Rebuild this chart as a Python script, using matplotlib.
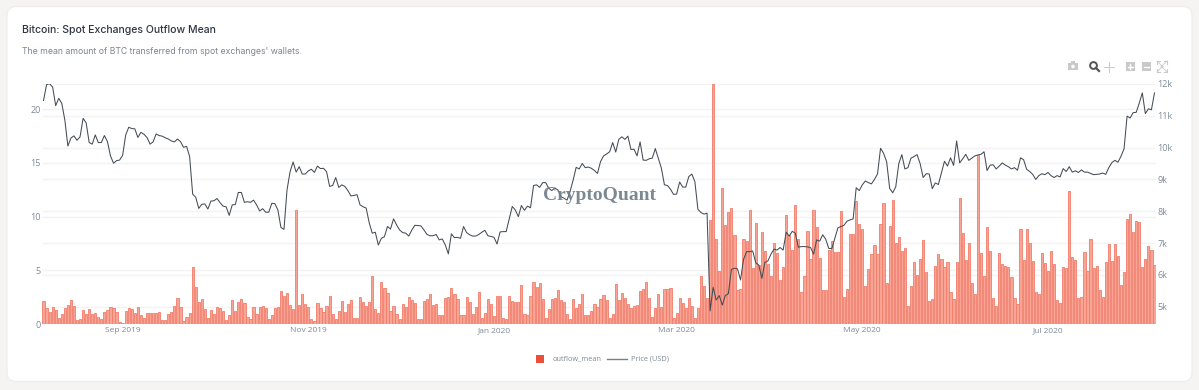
import matplotlib
matplotlib.use('Agg')
import matplotlib.pyplot as plt
import pandas as pd
from matplotlib.patches import FancyBboxPatch, Rectangle, Circle

start_date = '2019-08-06'

outflow_mean = [
    2.1, 1.45, 1.15, 1.6, 1.3, .55, .95, 1.45, 1.8, 2.25,
    1.7, .4, .5, 1.3, .9, 1.4, .9, 1.05, .65, .5,
    1.15, 1.3, 1.6, 1.45, 1.15, .2, .1, 1.2, 1.5, 1.4,
    1.05, 1.6, .8, .55, 1.0, 1.0, 1.05, 1.05, 1.1, .4,
    .4, .9, 1.15, 1.7, 2.4, 1.55, .3, .65, 1.05, 5.3,
    3.4, 2.05, 2.3, 1.35, .6, 1.3, .95, 1.6, 1.5, 1.25,
    .35, .8, 2.25, 1.2, 2.05, 2.35, 2.0, .65, .45, 1.6,
    .95, 1.6, 1.7, 1.5, .5, .85, 1.45, 1.55, 3.05, 2.6,
    2.85, 1.8, 1.4, 10.6, 1.8,
    2.8, 1.85, 1.55, .5, .3, 2.0, 1.5, 1.1, 1.7, 2.6,
    .95, .5, 1.25, 2.1, 1.15, 1.85, 2.25, .6, .55, 2.5,
    2.05, 1.7, 2.05, 4.45, 1.4, 1.0, 3.95, 3.35, 2.85, 1.2,
    1.7, .9, .45, 1.9, 1.6, 2.55, 2.25, 1.95, .5, .5,
    2.1, 2.35, 2.75, 1.75, 1.85, .85, .85, 2.45, 2.5, 3.35,
    2.8, 2.3, .8, .85, 2.5, 2.05, .95, 1.6, 2.95, .6,
    1.0, 2.35, 1.85, .75, 2.65, 2.65, .6, .45, 2.65, 2.1,
    2.05, 2.05, 3.6, .95, .85, 2.65, 3.95, 3.45, 3.85, 2.35,
    .6, 1.4, 2.3, 2.45, 3.2, 2.25, 2.05, .95, .45, 2.35,
    1.45, 1.85, 2.75, .8, .85, 1.25, 1.85, 1.6,
    2.35, 2.7, 2.2, .55, .9, 3.75, 2.25, 2.85, 2.4, 1.85,
    1.45, 1.7, 1.8, 3.1, 3.3, 3.95, 2.4, .65, 1.45, 2.75,
    1.55, 3.25, 3.25, 3.35, .6, 1.05, 2.45, 2.0, 1.45, 2.4,
    1.7, .6, 1.5, 4.45, 3.5, 2.45, 9.7, 22.3, 7.9, 4.9,
    12.65, 9.2, 10.4, 10.8, 8.25, 3.2, 3.3, 7.95, 7.7, 10.6,
    5.25, 9.4, 5.45, 8.6, 6.8, 5.55, 4.45, 7.5, 6.6, 4.1,
    5.3, 10.1, 8.25, 6.85, 11.1, 7.95, 2.95, 4.5, 8.65, 6.05,
    10.6, 9.0, 6.15, 3.15, 3.15, 6.9, 7.7, 6.7, 6.7, 10.55,
    2.5, 3.3, 8.4, 8.35, 11.45, 9.3, 8.8, 3.5, 5.1, 6.5,
    7.35, 6.5, 9.35, 11.3, 3.85, 9.15, 11.5, 7.55, 8.1,
    6.8, 7.05, 1.7, 3.55, 5.75, 4.6, 6.05, 7.8, 4.85, 2.1,
    2.35, 5.35, 6.5, 6.05, 5.3, 5.75, 2.95, 2.3, 5.75, 11.7,
    8.45, 5.95, 7.5, 3.8, 2.8, 15.75, 6.65, 4.5, 9.05, 6.8,
    2.45, 1.65, 6.6, 5.6, 5.4, 5.3, 4.4, 2.4, 1.85, 8.8,
    5.95, 8.85, 7.5, 5.9, 2.95, 2.75, 6.65, 5.65, 4.95, 6.8,
    5.6, 2.25, 2.0, 5.3, 5.2, 12.4, 6.25, 6.0, 2.45, 2.55,
    6.7, 4.95, 7.9, 5.2, 5.4, 3.2, 2.55, 5.8, 7.45, 5.85,
    7.4, 6.35, 3.65, 4.85, 9.8, 10.25, 8.6, 9.6, 9.45, 5.3,
    6.05, 7.25, 6.9, 5.5,
]

price_usd = [
    11480, 11980, 12010, 11900, 11320, 11550, 11390, 10870, 10050, 10300,
    10370, 10230, 10340, 10920, 10780, 10160, 10110, 10400, 10160, 10160,
    10380, 10190, 9740, 9510, 9590, 9610, 9760, 10400, 10640, 10600,
    10590, 10320, 10480, 10420, 10320, 10110, 10180, 10430, 10380, 10360,
    10310, 10270, 10210, 10180, 10270, 10190, 10010, 10040, 9720, 8540,
    8440, 8090, 8220, 8230, 8070, 8320, 8330, 8400, 8270, 8160,
    8140, 7870, 8200, 8210, 8590, 8590, 8280, 8300, 8280, 8350,
    8200, 8010, 8080, 7970, 7970, 8250, 8240, 8040, 7490, 7430,
    8670, 9240, 9550, 9230, 9400,
    9170, 9170, 9270, 9320, 9220, 9420, 9340, 9350, 9240, 8780,
    8810, 9060, 8750, 8830, 8780, 8650, 8480, 8500, 8520, 8200,
    8140, 8100, 7640, 7310, 7340, 6940, 7150, 7200, 7520, 7440,
    7760, 7570, 7410, 7330, 7310, 7220, 7410, 7560, 7550, 7540,
    7410, 7270, 7230, 7230, 7270, 7100, 7130, 6940, 6660, 7290,
    7170, 7180, 7150, 7520, 7330, 7260, 7220, 7220, 7270, 7340,
    7400, 7230, 7210, 7180, 6970, 7350, 7360, 7360, 7760, 8150,
    8040, 7830, 8180, 8030, 8160, 8110, 8810, 8830, 8750, 8900,
    8900, 8720, 8650, 8730, 8670, 8460, 8410, 8350, 8620, 8980,
    9380, 9330, 9500, 9370, 9390, 9350, 9280, 9190,
    9560, 9740, 9800, 9870, 10160, 9860, 10260, 10340, 10260, 10360,
    9940, 9950, 9740, 10180, 9610, 9600, 9650, 9670, 9970, 9660,
    9350, 8830, 8810, 8690, 8530, 8540, 8920, 8760, 8760, 9090,
    9170, 8930, 8060, 7960, 7910, 7940, 4870, 5610, 5210, 5350,
    5050, 5350, 5410, 6170, 6210, 6190, 5840, 6490, 6730, 6730,
    6750, 6380, 6310, 5890, 6390, 6440, 6650, 6810, 6780, 6860,
    6780, 7340, 7220, 7370, 7310, 6870, 6890, 6890, 6880, 6860,
    6650, 7100, 7060, 7260, 7120, 6830, 6830, 7150, 7480, 7520,
    7560, 7690, 7730, 7760, 8740, 8650, 8830, 8950, 8900, 8860,
    9000, 9170, 9980, 9820, 9560, 8720, 8580, 8770, 9500,
    9780, 9330, 9370, 9670, 9720, 9780, 9500, 9060, 9180, 9170,
    8710, 8890, 8840, 9200, 9570, 9420, 9680, 9440, 10210, 9520,
    9650, 9790, 9600, 9670, 9740, 9770, 9790, 9870, 9280, 9450,
    9460, 9330, 9420, 9520, 9450, 9400, 9330, 9370, 9290, 9680,
    9620, 9320, 9250, 9160, 9000, 9120, 9180, 9150, 9220, 9120,
    9060, 9120, 9080, 9340, 9250, 9400, 9230, 9270, 9220, 9300,
    9230, 9230, 9190, 9150, 9160, 9170, 9200, 9160, 9370, 9530,
    9600, 9540, 9730, 9960, 10990, 10930, 11100, 11110, 11400, 11720,
    11070, 11220, 11190, 11720,
]

left_ticks = [0, 5, 10, 15, 20]
right_ticks = [5000, 6000, 7000, 8000, 9000, 10000, 11000, 12000]
right_labels = ['5k', '6k', '7k', '8k', '9k', '10k', '11k', '12k']
date_ticks = ['2019-09-01', '2019-11-01', '2020-01-01', '2020-03-01', '2020-05-01', '2020-07-01']
date_labels = ['Sep 2019', 'Nov 2019', 'Jan 2020', 'Mar 2020', 'May 2020', 'Jul 2020']

W, H = 1199, 390
font = 'Open Sans'
grey = '#7f8a96'
rect = [42 / W, (H - 324) / H, (1156 - 42) / W, 240 / H]

fig = plt.figure(figsize=(W / 100, H / 100), dpi=100, facecolor='#f5f4f2')

# card, titles, mode bar and legend in page pixels
bg = fig.add_axes([0, 0, 1, 1], zorder=0)
bg.set_xlim(0, W)
bg.set_ylim(H, 0)
bg.axis('off')
bg.add_patch(FancyBboxPatch((7, 6.5), 1185, 375, boxstyle='round,pad=0,rounding_size=9',
                            fc='white', ec='#efeeec', lw=1))
bg.text(22, 30, 'Bitcoin: Spot Exchanges Outflow Mean', fontsize=7.55, family='Inter',
        color='#2f3640', va='center', fontweight='medium')
bg.text(22, 51, "The mean amount of BTC transferred from spot exchanges' wallets.", fontsize=6.25,
        family='Inter', color='#7d8590', va='center')

c = '#c9c9c9'
bg.add_patch(Rectangle((1068, 63), 10, 7, fc=c, ec='none'))
bg.add_patch(Rectangle((1071, 61), 4, 2, fc=c, ec='none'))
bg.add_patch(Circle((1073, 66.5), 1.8, fc='white', ec='none'))
bg.add_patch(Circle((1093.5, 65.5), 3.4, fc='none', ec='#555555', lw=1.4))
bg.plot([1096, 1099], [68, 71], color='#555555', lw=1.6)
bg.plot([1104, 1114], [66.5, 66.5], color=c, lw=0.7)
bg.plot([1109, 1109], [61.5, 71.5], color=c, lw=0.7)
bg.add_patch(Rectangle((1125.5, 62), 9, 9, fc=c, ec='none'))
bg.plot([1127.5, 1132.5], [66.5, 66.5], color='white', lw=1)
bg.plot([1130, 1130], [64, 69], color='white', lw=1)
bg.add_patch(Rectangle((1141.5, 62), 9, 9, fc=c, ec='none'))
bg.plot([1143.5, 1148.5], [66.5, 66.5], color='white', lw=1)
for sx, sy in [(1157, 61), (1167, 61), (1157, 72), (1167, 72)]:
    dx = 3 if sx < 1160 else -3
    dy = 3 if sy < 66 else -3
    bg.plot([sx, sx + dx], [sy, sy], color=c, lw=0.8)
    bg.plot([sx, sx], [sy, sy + dy], color=c, lw=0.8)
    bg.plot([sx, sx + 2 * dx], [sy, sy + 2 * dy], color=c, lw=0.6)

# legend
bg.add_patch(Rectangle((536, 354.5), 8, 8, fc='#ea4f3b', ec='none'))
bg.plot([607, 627], [358.5, 358.5], color='#7b8087', lw=1)
bg.text(553, 358.5, 'outflow_mean', fontsize=5.3, family=font, color=grey, va='center')
bg.text(631, 358.5, 'Price (USD)', fontsize=5.3, family=font, color=grey, va='center')

dates = pd.date_range(start_date, periods=len(outflow_mean))
price_dates = pd.date_range(start_date, periods=len(price_usd))
xlim = (dates[0] - pd.Timedelta(hours=12), dates[-1] + pd.Timedelta(hours=12))

# right axis gridlines sit under the bars
grid_ax = fig.add_axes(rect, zorder=1)
grid_ax.patch.set_alpha(0)
grid_ax.set_xlim(xlim)
grid_ax.set_ylim(4456, 12000)
grid_ax.set_yticks(right_ticks)
grid_ax.set_xticks([])
grid_ax.tick_params(length=0, labelleft=False)
grid_ax.grid(axis='y', color='#f3f3f3', lw=1)
for s in grid_ax.spines.values():
    s.set_visible(False)

ax = fig.add_axes(rect, zorder=2)
ax.patch.set_alpha(0)
ax.bar(dates, outflow_mean, width=0.72, color='#f9a596', edgecolor='#f27c69', linewidth=0.6, zorder=3)
ax.set_ylim(0, 22.33)
ax.set_xlim(xlim)
ax.set_yticks(left_ticks)
ax.set_xticks(pd.to_datetime(date_ticks))
ax.set_xticklabels(date_labels)
ax.grid(axis='y', color='#f3f3f3', lw=1, zorder=0)
ax.tick_params(length=0, labelsize=6, labelcolor=grey, pad=2)
ax.tick_params(axis='y', labelsize=6.5, pad=1)
for s in ax.spines.values():
    s.set_visible(False)
for t in ax.get_xticklabels() + ax.get_yticklabels():
    t.set_family(font)

ax2 = ax.twinx()
ax2.set_zorder(3)
ax2.patch.set_alpha(0)
ax2.plot(price_dates, price_usd, color='#454c55', lw=0.75)
ax2.set_ylim(4456, 12000)
ax2.set_yticks(right_ticks)
ax2.set_yticklabels(right_labels)
ax2.tick_params(length=0, labelsize=6.5, labelcolor=grey, pad=1)
for s in ax2.spines.values():
    s.set_visible(False)
for t in ax2.get_yticklabels():
    t.set_family(font)

# watermark
fig.text(599 / W, (H - 196) / H, 'CryptoQuant', family='Liberation Serif', fontweight='bold',
         fontsize=14, color='#6f7c86', alpha=0.9, ha='center', va='center', zorder=5)

fig.savefig('out.png', dpi=100, facecolor=fig.get_facecolor())
print(len(outflow_mean), len(price_usd))
